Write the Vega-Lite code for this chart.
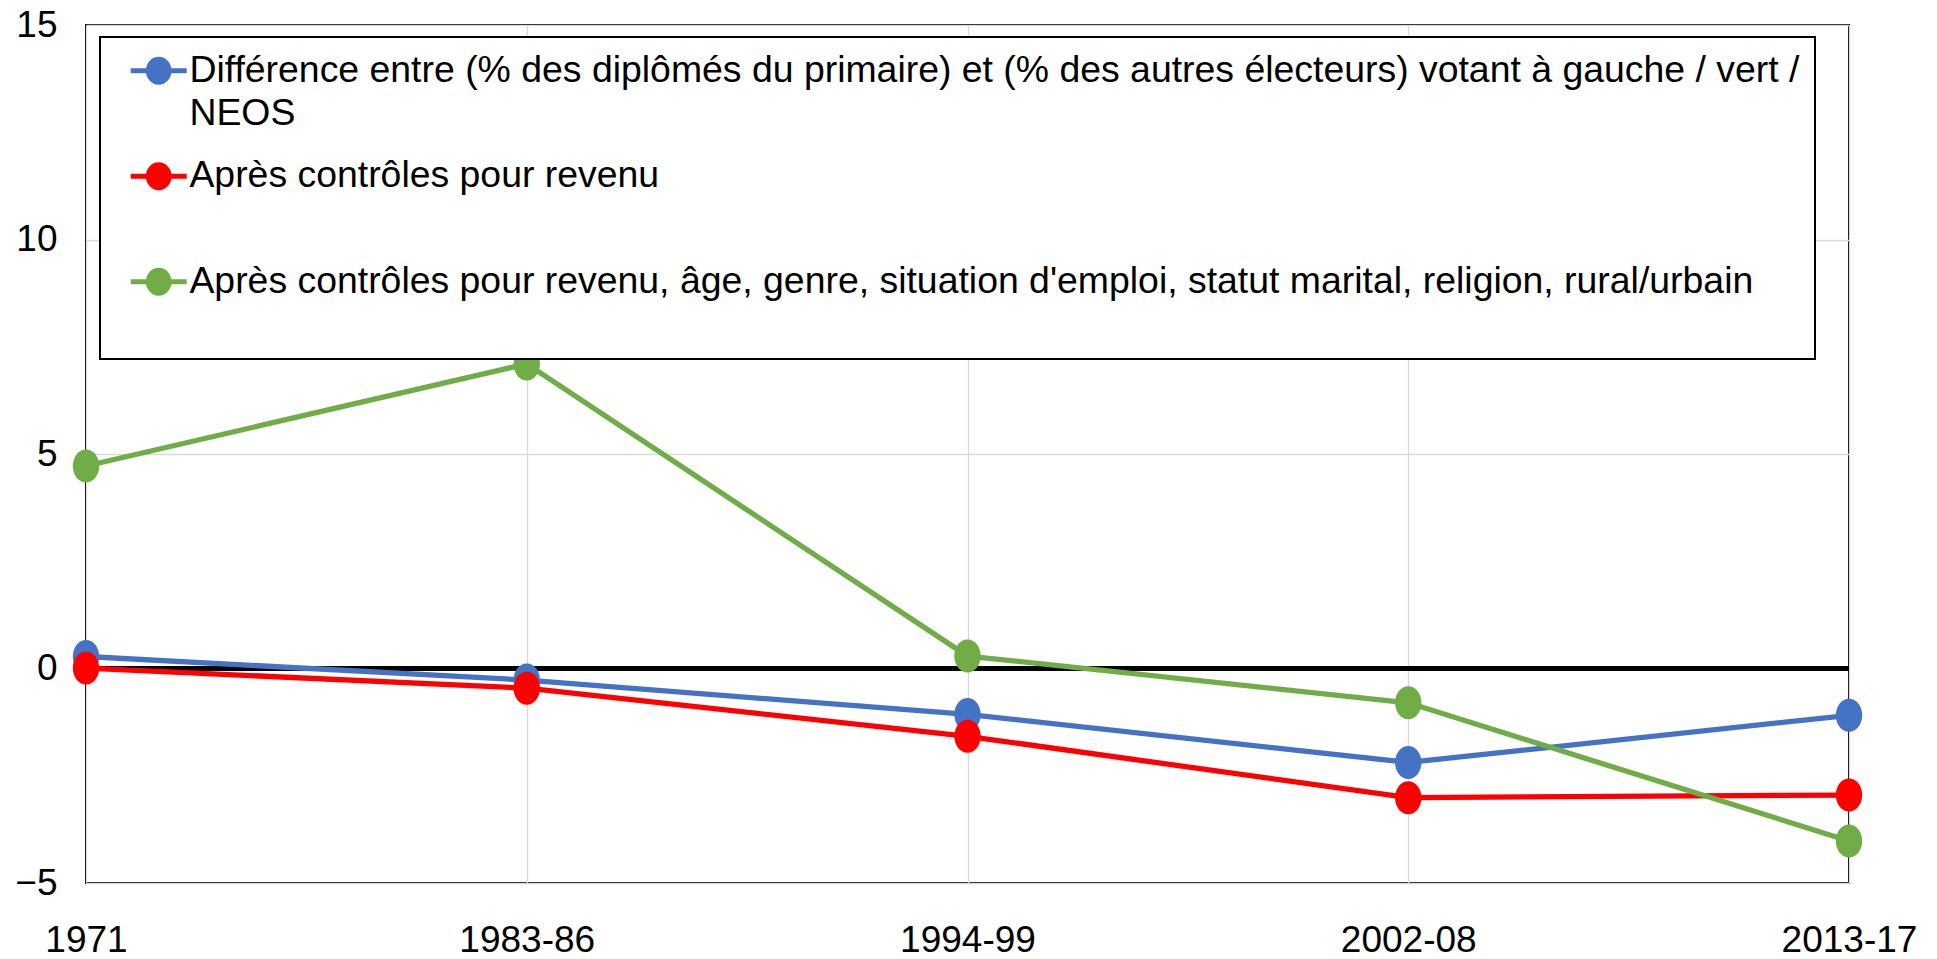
{
  "$schema": "https://vega.github.io/schema/vega-lite/v6.json",
  "autosize": "none",
  "width": 1763,
  "height": 858,
  "padding": {"left": 86, "top": 25, "right": 88, "bottom": 76},
  "background": "white",
  "config": {
    "view": {"stroke": "black", "strokeWidth": 2},
    "font": "Liberation Sans",
    "axis": {
      "labelFont": "Liberation Sans",
      "labelFontSize": 37,
      "labelColor": "black",
      "ticks": false,
      "domain": false,
      "grid": true,
      "gridColor": "#d9d9d9",
      "gridWidth": 1.3,
      "title": null
    }
  },
  "data": {
    "values": [
      {"periode": "1971", "serie": "Différence entre (% des diplômés du primaire) et (% des autres électeurs) votant à gauche / vert / NEOS", "valeur": 0.28},
      {"periode": "1983-86", "serie": "Différence entre (% des diplômés du primaire) et (% des autres électeurs) votant à gauche / vert / NEOS", "valeur": -0.27},
      {"periode": "1994-99", "serie": "Différence entre (% des diplômés du primaire) et (% des autres électeurs) votant à gauche / vert / NEOS", "valeur": -1.07},
      {"periode": "2002-08", "serie": "Différence entre (% des diplômés du primaire) et (% des autres électeurs) votant à gauche / vert / NEOS", "valeur": -2.19},
      {"periode": "2013-17", "serie": "Différence entre (% des diplômés du primaire) et (% des autres électeurs) votant à gauche / vert / NEOS", "valeur": -1.09},
      {"periode": "1971", "serie": "Après contrôles pour revenu", "valeur": 0.01},
      {"periode": "1983-86", "serie": "Après contrôles pour revenu", "valeur": -0.46},
      {"periode": "1994-99", "serie": "Après contrôles pour revenu", "valeur": -1.58},
      {"periode": "2002-08", "serie": "Après contrôles pour revenu", "valeur": -3.01},
      {"periode": "2013-17", "serie": "Après contrôles pour revenu", "valeur": -2.95},
      {"periode": "1971", "serie": "Après contrôles pour revenu, âge, genre, situation d'emploi, statut marital, religion, rural/urbain", "valeur": 4.72},
      {"periode": "1983-86", "serie": "Après contrôles pour revenu, âge, genre, situation d'emploi, statut marital, religion, rural/urbain", "valeur": 7.1},
      {"periode": "1994-99", "serie": "Après contrôles pour revenu, âge, genre, situation d'emploi, statut marital, religion, rural/urbain", "valeur": 0.29},
      {"periode": "2002-08", "serie": "Après contrôles pour revenu, âge, genre, situation d'emploi, statut marital, religion, rural/urbain", "valeur": -0.8},
      {"periode": "2013-17", "serie": "Après contrôles pour revenu, âge, genre, situation d'emploi, statut marital, religion, rural/urbain", "valeur": -4.02}
    ]
  },
  "layer": [
    {
      "mark": {"type": "rule", "color": "black", "strokeWidth": 5},
      "encoding": {
        "y": {"datum": 0, "type": "quantitative", "scale": {"domain": [-5, 15], "nice": false, "zero": false}, "axis": {"values": [-5, 0, 5, 10, 15], "labelPadding": 29, "title": null}}
      }
    },
    {
      "mark": {"type": "line", "strokeWidth": 5.3},
      "encoding": {
        "x": {"field": "periode", "type": "ordinal", "sort": ["1971", "1983-86", "1994-99", "2002-08", "2013-17"], "scale": {"type": "point", "padding": 0}, "axis": {"labelAngle": 0, "labelPadding": 39, "title": null}},
        "y": {"field": "valeur", "type": "quantitative", "scale": {"domain": [-5, 15], "nice": false, "zero": false}, "axis": {"values": [-5, 0, 5, 10, 15], "labelPadding": 29, "title": null}},
        "color": {
          "field": "serie", "type": "nominal",
          "scale": {
            "domain": ["Différence entre (% des diplômés du primaire) et (% des autres électeurs) votant à gauche / vert / NEOS", "Après contrôles pour revenu", "Après contrôles pour revenu, âge, genre, situation d'emploi, statut marital, religion, rural/urbain"],
            "range": ["#4472C4", "#FF0000", "#70AD47"]
          },
          "legend": {
            "title": null,
            "orient": "none",
            "legendX": 14,
            "legendY": 12,
            "direction": "vertical",
            "fillColor": "white",
            "strokeColor": "black",
            "padding": 15,
            "rowPadding": 21.5,
            "labelFont": "Liberation Sans",
            "labelFontSize": 37.4,
            "labelColor": "black",
            "labelLimit": 3000,
            "labelOffset": 12,
            "labelBaseline": "middle",
            "symbolType": "M-2,0L2,0M-0.74,0A0.74,0.82,0,1,1,0.74,0A0.74,0.82,0,1,1,-0.74,0Z",
            "symbolSize": 784,
            "symbolOffset": 25,
            "symbolStrokeWidth": 5,
            "labelExpr": "indexof(datum.label, 'NEOS') > 0 ? [replace(datum.label, ' NEOS', ''), 'NEOS'] : [datum.label, '']",
            "encoding": {
              "symbols": {
                "fill": {"value": {"expr": "scale('color', datum.value)"}},
                "stroke": {"value": {"expr": "scale('color', datum.value)"}},
                "opacity": {"value": 1}
              },
              "labels": {"lineHeight": {"value": 43}},
              "legend": {"strokeWidth": {"value": 2}}
            }
          }
        }
      }
    },
    {
      "mark": {"type": "point", "filled": true, "opacity": 1, "size": 1089, "shape": "M-0.8,0A0.8,1,0,1,1,0.8,0A0.8,1,0,1,1,-0.8,0Z"},
      "encoding": {
        "x": {"field": "periode", "type": "ordinal", "sort": ["1971", "1983-86", "1994-99", "2002-08", "2013-17"], "scale": {"type": "point", "padding": 0}},
        "y": {"field": "valeur", "type": "quantitative"},
        "color": {"field": "serie", "type": "nominal"}
      }
    }
  ]
}
